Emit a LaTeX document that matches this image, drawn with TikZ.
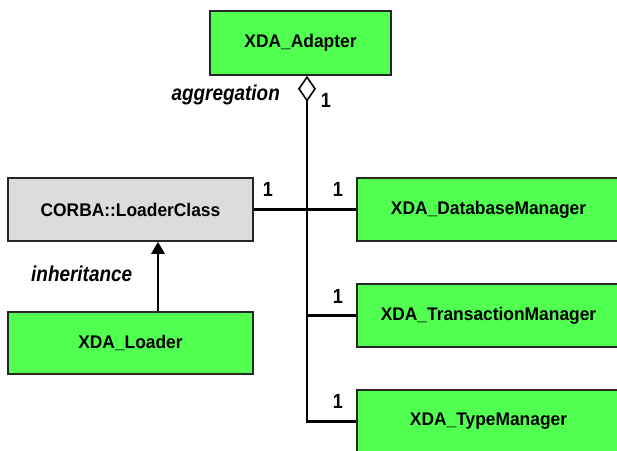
\documentclass[tikz,border=0pt]{standalone}
\usepackage{fontspec}
\setmainfont{Liberation Sans}
\newfontfamily\boxfont[FakeStretch=0.95]{Liberation Sans}
\newfontfamily\labelfont[FakeStretch=0.88]{Liberation Sans}
\usetikzlibrary{arrows.meta}
\definecolor{classgreen}{RGB}{80,255,80}
\definecolor{classgray}{RGB}{220,220,220}
\tikzset{
  classbox/.style={draw=black!85, line width=1.6pt, fill=classgreen, minimum width=245pt,
    minimum height=63pt, inner sep=0pt,
    font=\boxfont\fontsize{18.3}{21}\selectfont\bfseries},
  extclass/.style={classbox, fill=classgray},
  mgrbox/.style={classbox, minimum width=263pt},
  assoc/.style={line width=2.8pt, black},
  mult/.style={font=\labelfont\fontsize{20.5}{23}\selectfont\bfseries, inner sep=0pt},
  rolelabel/.style={font=\labelfont\fontsize{21.5}{24}\selectfont\bfseries\itshape, inner sep=0pt},
}
\begin{document}
\begin{tikzpicture}[x=1pt, y=-1pt]
  \useasboundingbox (0,0) rectangle (617,450);
  \clip (0,0) rectangle (617,450);
  \fill[white] (0,0) rectangle (617,450);

  % classes
  \node[classbox, minimum width=181pt, minimum height=64pt] (adapter) at (300.5,43) {XDA\_Adapter};
  \node[extclass] (corba) at (130.5,209.5) {CORBA::LoaderClass};
  \node[classbox, minimum height=62pt] (loader) at (130.5,343) {XDA\_Loader};
  \node[mgrbox] (db) at (488.5,209.5) {XDA\_DatabaseManager};
  \node[mgrbox] (trans) at (488.5,315.5) {XDA\_TransactionManager};
  \node[mgrbox] (type) at (488.5,421.5) {XDA\_TypeManager};

  % aggregation spine
  \coordinate (spine) at (307,0);
  \coordinate (spineend) at (type.west -| spine);
  \draw[assoc, {Diamond[open, length=26pt, width=18pt, line width=1.6pt, fill=white]}-]
    (adapter.south -| spine) -- (spineend);
  \draw[assoc] (corba.east) -- (db.west);
  \draw[assoc] ([xshift=-1.5pt]trans.west -| spine) -- (trans.west);
  \draw[assoc] ([xshift=-1.5pt]spineend) -- (type.west);

  % inheritance
  \coordinate (inh) at (158,0);
  \draw[assoc, -{Triangle[length=12pt, width=13pt]}] (loader.north -| inh) -- (corba.south -| inh);

  % labels
  \node[rolelabel, anchor=east] (aggl) at (280,95) {aggregation};
  \node[rolelabel, anchor=west] (inhl) at (31,274) {inheritance};
  \node[mult] (m0) at (326,100) {1};
  \node[mult] (m1) at (268,189) {1};
  \node[mult] (m2) at (338,189) {1};
  \node[mult] (m3) at (338,296) {1};
  \node[mult] (m4) at (338,401) {1};
\end{tikzpicture}
\end{document}
